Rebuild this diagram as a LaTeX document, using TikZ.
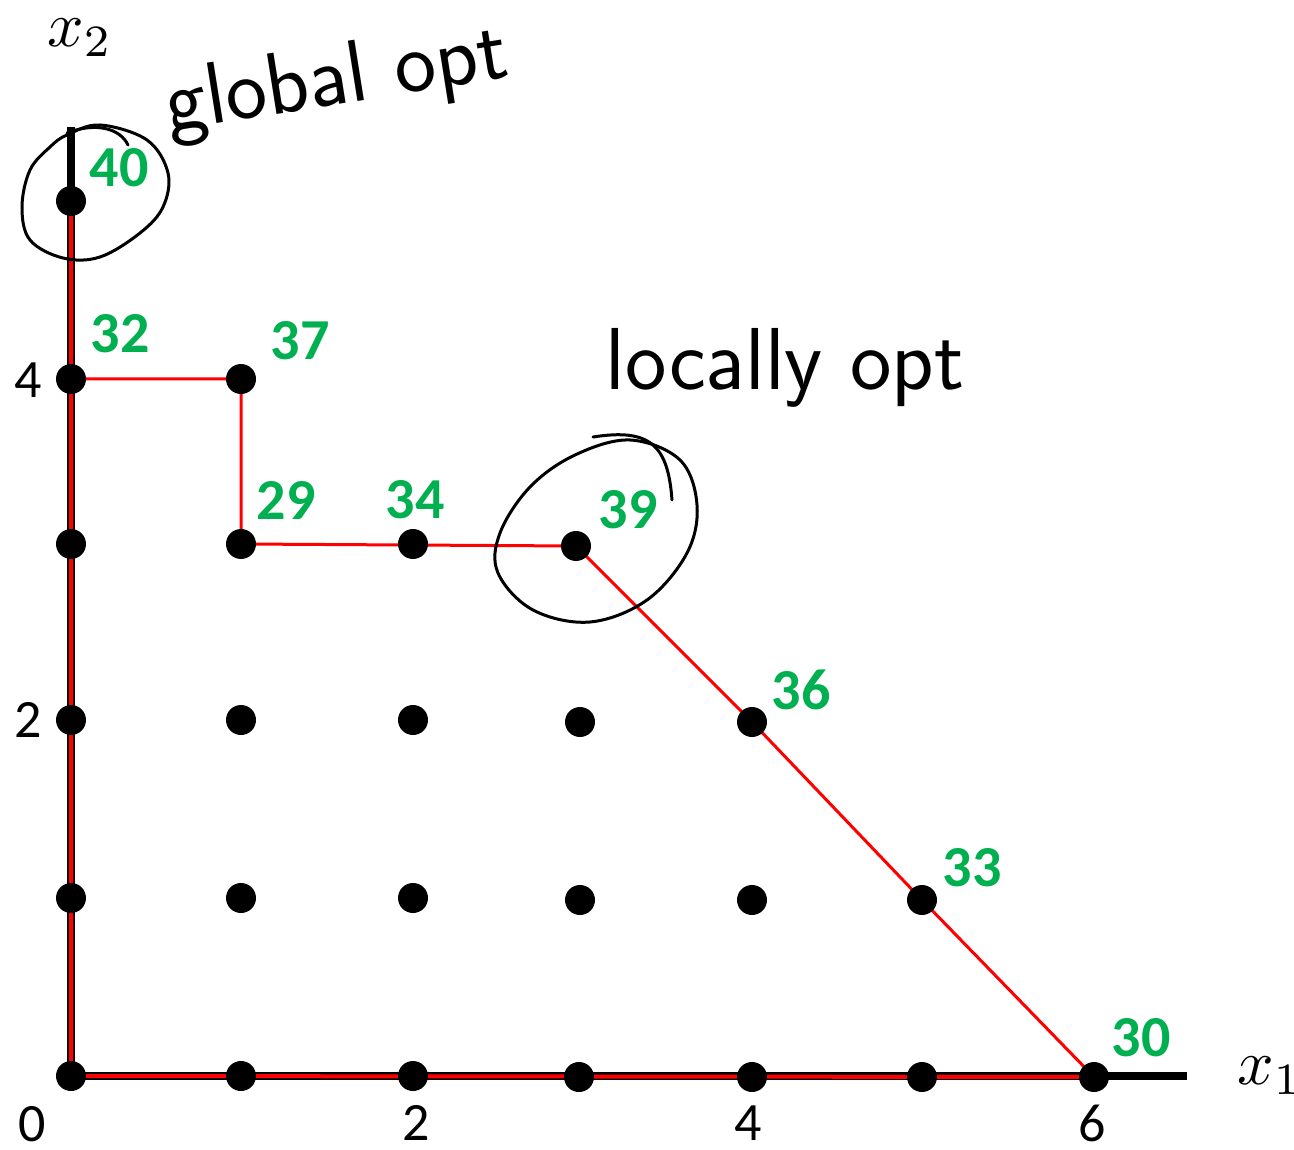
\documentclass[tikz,border=0pt]{standalone}
\usepackage{fontspec}
\newfontfamily\calib{Carlito}
\usetikzlibrary{backgrounds}
\definecolor{optgreen}{RGB}{0,176,80}
\tikzset{
  dot/.style={circle,fill=black,minimum size=30pt,inner sep=0pt},
  val/.style={font=\calib\bfseries\fontsize{58}{60}\selectfont,text=optgreen,inner sep=0pt},
  ticklab/.style={font=\calib\fontsize{54}{56}\selectfont,inner sep=0pt},
  axlab/.style={scale=6.4,inner sep=0pt},
  axisline/.style={line width=8pt},
  redaxis/.style={red,line width=4pt},
  redpath/.style={red,line width=3pt},
  hand/.style={line width=3pt,line cap=round,line join=round},
  handtext/.style={font=\sffamily\fontsize{88}{90}\selectfont,inner sep=0pt}
}
\begin{document}
\begin{tikzpicture}[x=1pt,y=-1pt]
\useasboundingbox (0,0) rectangle (1294,1150);
% grid points
\node[dot] (p00) at (71,1076) {};
\node[dot] (p10) at (241,1076) {};
\node[dot] (p20) at (413,1076) {};
\node[dot] (p30) at (579,1077) {};
\node[dot] (p40) at (752,1077) {};
\node[dot] (p50) at (922,1077) {};
\node[dot] (p60) at (1094,1077) {};
\node[dot] (p01) at (71,898) {};
\node[dot] (p11) at (241,898) {};
\node[dot] (p21) at (413,898) {};
\node[dot] (p31) at (580,900) {};
\node[dot] (p41) at (752,900) {};
\node[dot] (p51) at (922,900) {};
\node[dot] (p02) at (71,720) {};
\node[dot] (p12) at (241,720) {};
\node[dot] (p22) at (413,720) {};
\node[dot] (p32) at (580,722) {};
\node[dot] (p42) at (752,722) {};
\node[dot] (p03) at (71,544) {};
\node[dot] (p13) at (241,544) {};
\node[dot] (p23) at (413,544) {};
\node[dot] (p33) at (576,546) {};
\node[dot] (p04) at (71,379) {};
\node[dot] (p14) at (241,379) {};
\node[dot] (p05) at (71,201) {};
\coordinate (x2top) at (71,127);
\coordinate (x1end) at (1187,1076);
% lines beneath the dots
\begin{scope}[on background layer]
  \fill[white] (0,0) rectangle (1294,1150);
  \draw[axisline] (x2top) -- (p00.center) -- (x1end);
  \draw[redaxis] (p05.center) -- (p00.center) -- (p60.center);
  \draw[redpath] (p04.center) -- (p14.center) -- (p13.center) -- (p33.center)
     -- (p42.center) -- (p51.center) -- (p60.center);
\end{scope}
% values
\node[val] (v40) at (119,168) {40};
\node[val] (v32) at (120,334) {32};
\node[val] (v37) at (300,341) {37};
\node[val] (v29) at (286,500) {29};
\node[val] (v34) at (415,500) {34};
\node[val] (v39) at (628,510) {39};
\node[val] (v36) at (801,690) {36};
\node[val] (v33) at (972,868) {33};
\node[val] (v30) at (1141,1038) {30};
% tick labels
\node[ticklab] (t4y) at (28,380) {4};
\node[ticklab] (t2y) at (28,720) {2};
\node[ticklab] (t0) at (32,1124) {0};
\node[ticklab] (t2x) at (416,1123) {2};
\node[ticklab] (t4x) at (748,1123) {4};
\node[ticklab] (t6x) at (1092,1123) {6};
% axis labels
\node[axlab] (lx2) at (80,38) {$x_2$};
\node[axlab,anchor=west] (lx1) at (1236,1076) {$x_1$};
% handwritten notes
\node[handtext,anchor=base,rotate=9] (gopt) at (340,104) {global opt};
\node[handtext,anchor=base] (lopt) at (785,390) {locally opt};
\draw[hand] plot[smooth cycle, tension=0.6] coordinates {(67,135) (100,125) (147,140) (168,173) (163,207) (140,233) (100,257) (63,258) (30,240) (22,207) (30,170) (50,147)};
\draw[hand] (67,133) .. controls (95,122) and (120,128) .. (128,145);
\draw[hand] plot[smooth cycle, tension=0.6] coordinates {(630,440) (680,460) (697,505) (687,553) (647,600) (590,622) (533,610) (498,573) (500,533) (530,487) (575,455)};
\draw[hand] (593,437) .. controls (650,428) and (668,445) .. (672,500);
\end{tikzpicture}
\end{document}
